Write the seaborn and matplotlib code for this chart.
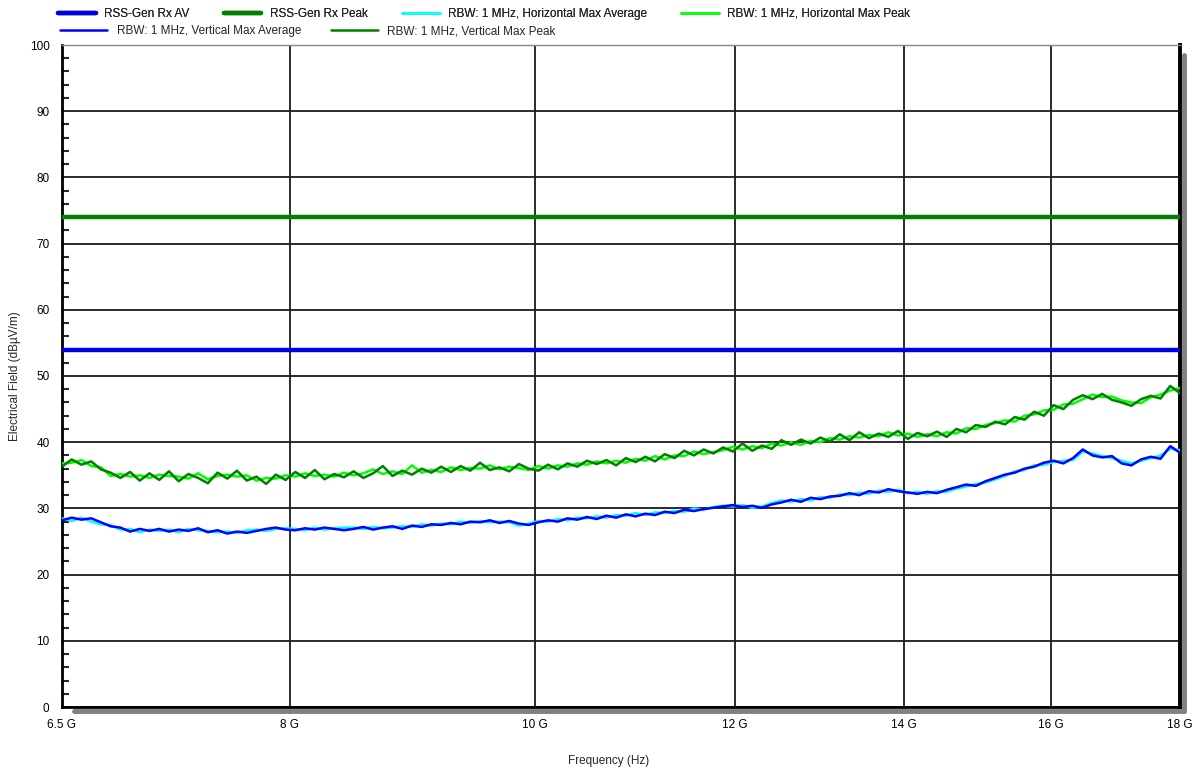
import numpy as np
import pandas as pd
import seaborn as sns
import matplotlib.pyplot as plt
from matplotlib.ticker import FixedLocator, NullLocator, MultipleLocator
from matplotlib.transforms import ScaledTranslation

# sweep points (log spaced, Hz)
freq = np.geomspace(6.5e9, 18e9, 116)

# limits (dBuV/m)
limit_av = 54
limit_pk = 74

# RBW 1 MHz, vertical max peak
pk_v = [36.3, 37.4, 36.6, 37.1, 35.9, 35.4, 34.6, 35.5, 34.2, 35.3,
        34.3, 35.6, 34.1, 35.2, 34.6, 33.8, 35.4, 34.5, 35.7, 34.2,
        34.8, 33.7, 35.1, 34.3, 35.5, 34.6, 35.8, 34.4, 35.2, 34.7,
        35.6, 34.6, 35.3, 36.4, 34.9, 35.7, 35.1, 36.0, 35.4, 36.3,
        35.5, 36.4, 35.7, 36.9, 35.8, 36.2, 35.6, 36.7, 36.0, 35.7,
        36.6, 35.9, 36.8, 36.3, 37.2, 36.7, 37.3, 36.5, 37.6, 37.0,
        37.8, 37.1, 38.2, 37.6, 38.7, 38.0, 38.9, 38.3, 39.2, 38.6,
        39.8, 38.7, 39.5, 39.0, 40.3, 39.6, 40.4, 39.8, 40.7, 40.1,
        41.2, 40.3, 41.5, 40.6, 41.3, 40.8, 41.7, 40.5, 41.4, 40.9,
        41.6, 40.8, 42.0, 41.5, 42.6, 42.3, 43.1, 42.7, 43.8, 43.4,
        44.6, 44.0, 45.6, 45.0, 46.4, 47.1, 46.5, 47.3, 46.4, 46.0,
        45.5, 46.5, 47.0, 46.6, 48.5, 47.4]

# RBW 1 MHz, horizontal max peak
pk_h = [36.8, 36.9, 37.3, 36.4, 36.2, 34.9, 35.2, 34.8, 35.0, 34.6,
        35.1, 34.9, 34.8, 34.5, 35.3, 34.4, 34.9, 35.1, 34.8, 35.0,
        34.2, 34.6, 34.5, 35.0, 34.8, 35.3, 34.9, 35.1, 34.8, 35.4,
        35.0, 35.3, 35.9, 35.2, 35.6, 35.2, 36.5, 35.4, 35.8, 35.5,
        36.2, 35.8, 36.1, 36.0, 36.5, 35.9, 36.3, 36.1, 35.8, 36.4,
        36.0, 36.5, 36.3, 36.8, 36.6, 37.1, 36.8, 37.2, 36.9, 37.5,
        37.2, 37.9, 37.4, 38.0, 37.9, 38.6, 38.2, 38.5, 38.8, 39.3,
        38.9, 39.4, 39.1, 39.8, 39.5, 40.0, 39.6, 40.2, 40.0, 40.6,
        40.4, 40.9, 40.7, 41.1, 40.9, 41.5, 41.0, 41.3, 40.8, 41.2,
        40.9, 41.5, 41.3, 42.1, 42.0, 42.6, 42.9, 43.3, 43.1, 44.0,
        44.2, 44.8, 44.9, 45.7, 45.8, 46.5, 47.2, 46.8, 46.9, 46.3,
        46.0, 45.9, 46.8, 47.2, 47.8, 48.2]

# RBW 1 MHz, vertical max average
av_v = [28.2, 28.6, 28.3, 28.5, 27.9, 27.3, 27.1, 26.5, 26.9, 26.6,
        26.9, 26.5, 26.8, 26.6, 27.0, 26.4, 26.7, 26.2, 26.5, 26.3,
        26.6, 26.9, 27.1, 26.8, 26.7, 27.0, 26.8, 27.1, 26.9, 26.7,
        26.9, 27.2, 26.8, 27.1, 27.3, 26.9, 27.4, 27.2, 27.6, 27.5,
        27.8, 27.6, 28.0, 27.9, 28.2, 27.8, 28.1, 27.7, 27.5, 27.9,
        28.2, 28.0, 28.5, 28.3, 28.7, 28.4, 28.9, 28.6, 29.1, 28.8,
        29.2, 29.0, 29.5, 29.3, 29.8, 29.6, 29.9, 30.1, 30.3, 30.5,
        30.2, 30.4, 30.1, 30.6, 30.9, 31.3, 31.0, 31.6, 31.4, 31.8,
        31.9, 32.3, 32.0, 32.6, 32.4, 32.9, 32.6, 32.4, 32.2, 32.5,
        32.3, 32.8, 33.2, 33.6, 33.4, 34.1, 34.6, 35.1, 35.4, 36.0,
        36.3, 36.9, 37.2, 36.8, 37.6, 38.9, 38.0, 37.7, 37.9, 36.8,
        36.5, 37.4, 37.8, 37.5, 39.4, 38.4]

# RBW 1 MHz, horizontal max average
av_h = [28.5, 28.1, 28.6, 28.0, 27.6, 27.5, 26.8, 26.9, 26.4, 26.8,
        26.6, 26.8, 26.4, 26.9, 26.7, 26.6, 26.4, 26.5, 26.3, 26.7,
        26.8, 26.6, 26.9, 27.0, 26.9, 26.7, 27.1, 26.8, 27.0, 27.1,
        27.1, 26.9, 27.2, 27.0, 27.1, 27.3, 27.2, 27.6, 27.4, 27.7,
        27.6, 28.0, 27.8, 28.1, 27.9, 28.0, 27.9, 27.4, 27.7, 28.1,
        28.0, 28.4, 28.2, 28.6, 28.5, 28.8, 28.6, 29.0, 28.9, 29.3,
        29.0, 29.4, 29.3, 29.6, 29.5, 30.0, 29.8, 30.2, 30.4, 30.3,
        30.5, 30.1, 30.3, 30.8, 31.2, 31.0, 31.4, 31.2, 31.7, 31.6,
        32.1, 32.0, 32.4, 32.2, 32.7, 32.5, 32.8, 32.3, 32.5, 32.2,
        32.6, 32.5, 33.0, 33.3, 33.7, 33.9, 34.4, 34.9, 35.6, 35.8,
        36.5, 36.6, 37.0, 37.2, 37.3, 38.6, 38.3, 37.9, 37.6, 37.2,
        36.8, 37.2, 37.6, 38.0, 39.0, 38.8]

xticks = [6.5e9, 8e9, 10e9, 12e9, 14e9, 16e9, 18e9]
xtick_labels = ['6.5 G', '8 G', '10 G', '12 G', '14 G', '16 G', '18 G']

sns.set_style('white')
plt.rcParams['font.family'] = ['Liberation Sans', 'DejaVu Sans']

df = pd.DataFrame({'freq': freq, 'av_h': av_h, 'av_v': av_v, 'pk_h': pk_h, 'pk_v': pk_v})

fig = plt.figure(figsize=(11.98, 7.72), dpi=100)
ax = fig.add_axes([62 / 1198, 65 / 772, 1118 / 1198, 662 / 772])

lim_x = [xticks[0], xticks[-1]]
l1, = ax.plot(lim_x, [limit_av] * 2, color='#0000e6', lw=3.2, zorder=4)
l2, = ax.plot(lim_x, [limit_pk] * 2, color='#008000', lw=3.2, zorder=4)

sns.lineplot(data=df, x='freq', y='av_h', color='#00ffff', lw=1.8, ax=ax, zorder=3)
sns.lineplot(data=df, x='freq', y='pk_h', color='#00ff00', lw=1.8, ax=ax, zorder=3)
sns.lineplot(data=df, x='freq', y='av_v', color='#0000ff', lw=1.8, ax=ax, zorder=3)
sns.lineplot(data=df, x='freq', y='pk_v', color='#008000', lw=1.8, ax=ax, zorder=3)
l3, l4, l5, l6 = ax.get_lines()[2:6]

ax.set_xscale('log')
ax.set_xlim(xticks[0], xticks[-1])
ax.set_ylim(0, 100)
ax.xaxis.set_major_locator(FixedLocator(xticks))
ax.set_xticklabels(xtick_labels)
ax.xaxis.set_minor_locator(NullLocator())
ax.yaxis.set_major_locator(MultipleLocator(10))
ax.yaxis.set_minor_locator(MultipleLocator(2))

ax.grid(True, which='major', color='#1a1a1a', lw=1.3)
ax.set_axisbelow(True)
ax.tick_params(axis='both', which='major', direction='out', length=7, width=1.8,
               labelsize=8.5, colors='black', pad=2)
ax.tick_params(axis='y', which='minor', direction='in', length=5, width=1.5, left=True)

for side in ['left', 'bottom']:
    ax.spines[side].set_color('black')
    ax.spines[side].set_linewidth(2)
ax.spines['right'].set_color('black')
ax.spines['right'].set_linewidth(2.8)
ax.spines['top'].set_color('#888888')
ax.spines['top'].set_linewidth(1)

# drop shadow on bottom / right
shadow = ax.transAxes + ScaledTranslation(3.5 / 100, -3.5 / 100, fig.dpi_scale_trans)
ax.plot([0.008, 1], [0, 0], transform=shadow, color='#808080', lw=3.5, clip_on=False, zorder=0)
ax.plot([1, 1], [0, 0.99], transform=shadow, color='#808080', lw=3.5, clip_on=False, zorder=0)

ax.set_xlabel('Frequency (Hz)', fontsize=8.5)
ax.xaxis.set_label_coords(0.489, -0.072)
ax.set_ylabel('Electrical Field (dBµV/m)', fontsize=8.5, labelpad=6)

leg1 = fig.legend([l1, l2, l3, l4],
                  ['RSS-Gen Rx AV', 'RSS-Gen Rx Peak',
                   'RBW: 1 MHz, Horizontal Max Average', 'RBW: 1 MHz, Horizontal Max Peak'],
                  loc='center left', bbox_to_anchor=(58 / 1198, 1 - 14 / 772), ncol=4,
                  frameon=False, fontsize=8.5, handlelength=3.2, handletextpad=0.7,
                  columnspacing=2.9, borderpad=0, borderaxespad=0)
fig.add_artist(leg1)
fig.legend([l5, l6],
           ['RBW: 1 MHz, Vertical Max Average', 'RBW: 1 MHz, Vertical Max Peak'],
           loc='center left', bbox_to_anchor=(60 / 1198, 1 - 31 / 772), ncol=2,
           frameon=False, fontsize=8.5, handlelength=4.0, handletextpad=0.8,
           columnspacing=2.5, borderpad=0, borderaxespad=0)

fig.savefig('out.png', dpi=100)
